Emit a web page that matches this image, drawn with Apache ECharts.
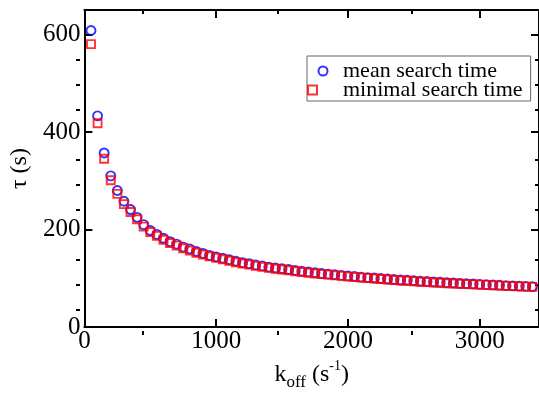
<!DOCTYPE html>
<html><head><meta charset="utf-8">
<script src="https://cdn.jsdelivr.net/npm/echarts@6/dist/echarts.min.js"></script>
<style>html,body{margin:0;padding:0;background:#fff}#c{width:539px;height:396px}</style>
</head><body><div id="c"></div>
<script>
const kOff = [50,100,150,200,250,300,350,400,450,500,550,600,650,700,750,800,850,900,950,1000,
  1050,1100,1150,1200,1250,1300,1350,1400,1450,1500,1550,1600,1650,1700,1750,1800,1850,1900,1950,2000,
  2050,2100,2150,2200,2250,2300,2350,2400,2450,2500,2550,2600,2650,2700,2750,2800,2850,2900,2950,3000,
  3050,3100,3150,3200,3250,3300,3350,3400];
const meanTime = [608,433,357,310,280,258,241,225,210,198,190,182,175,170,164,160,155,151,147,144,
  141,138,135,132,130,127.5,125.5,123,121,119.5,118,116,114.5,113,111.5,110,108.5,107.5,106,105,
  104,102.5,101.5,100.5,99.5,98.5,97.5,96.5,96,95,94,93.5,92.5,92,91,90.5,89.5,89,88.5,87.5,
  87,86.5,86,85,84.5,84,83.5,83];
const minTime = [580,418,345,301,273,252,236,221,206,195,187,179,172.5,167,161.5,157,152.5,148.5,145,142,
  139,136,133,130.5,128,125.5,123.5,121.5,119.5,118,116.5,114.5,113,111.5,110,108.5,107.5,106,105,103.5,
  102.5,101.5,100.5,99.5,98.5,97.5,96.5,95.5,95,94,93,92.5,91.5,91,90,89.5,89,88,87.5,87,
  86.5,85.5,85,84.5,84,83.5,83,82.5];
const xMajor = [0,1000,2000,3000];
const xMinor = [500,1500,2500];
const yMajor = [0,200,400,600];
const yMinor = [50,100,150,250,300,350,450,500,550];
const xMin = 0, xMax = 3450, yMin = 0, yMax = 650;

const FONT = '"Liberation Serif", "Times New Roman", serif';
const chart = echarts.init(document.getElementById('c'), null, {renderer: 'canvas'});
const gridRect = {left: 76, right: -1, top: 10, bottom: 61, containLabel: false};

function mkAxis(kind, gridIndex, position, ticks, len, showLine, showLabels, extra) {
  const a = {
    type: 'value', gridIndex: gridIndex, position: position,
    min: kind === 'x' ? xMin : yMin, max: kind === 'x' ? xMax : yMax,
    splitLine: {show: false},
    axisLine: {show: showLine, onZero: false, lineStyle: {color: '#000', width: 2}},
    axisTick: {show: true, inside: true, length: len, customValues: ticks, lineStyle: {color: '#000', width: 2}},
    axisLabel: {show: showLabels, customValues: ticks, color: '#000', fontFamily: FONT, fontSize: 25,
      margin: kind === 'x' ? 2 : 4, formatter: v => String(v)},
    silent: true
  };
  return Object.assign(a, extra || {});
}

const option = {
  animation: false,
  backgroundColor: '#fff',
  grid: [Object.assign({}, gridRect), Object.assign({}, gridRect)],
  xAxis: [
    mkAxis('x', 0, 'bottom', xMajor, 8, true, true, {
      name: '{m|k}{sub|off}{m| (s}{sup|-1}{m|)}',
      nameLocation: 'middle', nameGap: 20,
      nameTextStyle: {
        color: '#000', fontFamily: FONT, fontSize: 24,
        rich: {
          m: {fontFamily: FONT, fontSize: 24, color: '#000', lineHeight: 32},
          sub: {fontFamily: FONT, fontSize: 17, color: '#000', lineHeight: 12, verticalAlign: 'bottom'},
          sup: {fontFamily: FONT, fontSize: 14, color: '#000', lineHeight: 20, verticalAlign: 'top'}
        }
      }
    }),
    mkAxis('x', 0, 'top', xMajor, 8, true, false),
    mkAxis('x', 1, 'bottom', xMinor, 4, false, false),
    mkAxis('x', 1, 'top', xMinor, 4, false, false)
  ],
  yAxis: [
    mkAxis('y', 0, 'left', yMajor, 8, true, true, {
      name: 'τ (s)', nameLocation: 'middle', nameGap: 44, nameRotate: 90,
      nameTextStyle: {color: '#000', fontFamily: FONT, fontSize: 24}
    }),
    mkAxis('y', 0, 'right', yMajor, 8, true, false),
    mkAxis('y', 1, 'left', yMinor, 4, false, false),
    mkAxis('y', 1, 'right', yMinor, 4, false, false)
  ],
  legend: {
    orient: 'vertical', left: 307, top: 56,
    itemWidth: 30, itemHeight: 9, itemGap: -3,
    padding: [4, 8, 0, 0],
    borderColor: '#666', borderWidth: 1,
    textStyle: {fontFamily: FONT, fontSize: 22, color: '#000'},
    data: ['mean search time', 'minimal search time']
  },
  series: [
    {
      type: 'scatter', name: 'mean search time', xAxisIndex: 0, yAxisIndex: 0,
      data: kOff.map((k, i) => [k, meanTime[i]]),
      symbol: 'circle', symbolSize: 9,
      itemStyle: {color: 'rgba(255,255,255,0)', borderColor: '#0000ff', borderWidth: 1.9}
    },
    {
      type: 'scatter', name: 'minimal search time', xAxisIndex: 0, yAxisIndex: 0,
      data: kOff.map((k, i) => [k, minTime[i]]),
      symbol: 'square', symbolSize: 8,
      itemStyle: {color: 'rgba(255,255,255,0)', borderColor: '#ff0000', borderWidth: 1.9}
    }
  ]
};
chart.setOption(option);
</script>
</body></html>
